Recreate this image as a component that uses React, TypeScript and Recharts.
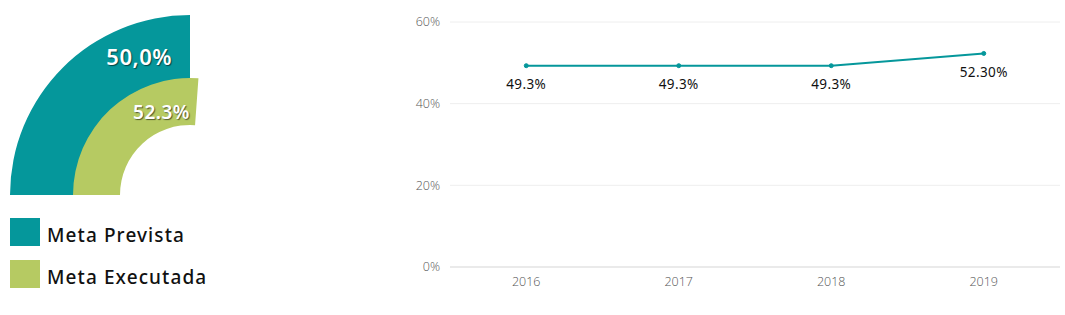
import React from "react";
import { PieChart, Pie, Cell, LineChart, Line, XAxis, YAxis, CartesianGrid, LabelList } from "recharts";

const seriesNames = ["Meta Prevista", "Meta Executada"];
const seriesValues = [50, 52.3];
const seriesLabels = ["50,0%", "52.3%"];
const seriesColors = ["#05979b", "#b6ca62"];

const years = ["2016", "2017", "2018", "2019"];
const yearValues = [49.3, 49.3, 49.3, 52.3];
const yearLabels = ["49.3%", "49.3%", "49.3%", "52.30%"];
const yTicks = [0, 20, 40, 60];

const lineData = years.map((y, i) => ({ year: y, value: yearValues[i], label: yearLabels[i] }));

const ringData = (i: number) => [
  { name: seriesNames[i], value: seriesValues[i] },
  { name: "rest", value: 100 - seriesValues[i] },
];

const FONT = "'Noto Sans', sans-serif";

const makeRingLabel = (i: number, dx: number, dy: number, size: number) => (props: any) => {
  if (props.index !== 0) return null;
  return (
    <text
      x={props.cx + dx}
      y={props.cy + dy}
      textAnchor="end"
      fill="#fff"
      fontFamily={FONT}
      fontWeight={600}
      fontSize={size}
      style={{ textShadow: "1px 1px 1px rgba(0,0,0,0.55)", letterSpacing: 0.5 }}
    >
      {seriesLabels[i]}
    </text>
  );
};

export default function App() {
  return (
    <div style={{ position: "absolute", left: 0, top: 0, width: 1065, height: 315, background: "#fff" }}>
      <div style={{ position: "absolute", left: 0, top: 0 }}>
        <PieChart width={220} height={210} margin={{ top: 0, right: 0, bottom: 0, left: 0 }}>
          <Pie
            data={ringData(0)}
            dataKey="value"
            cx={190}
            cy={195}
            startAngle={180}
            endAngle={0}
            innerRadius={116}
            outerRadius={180}
            stroke="none"
            isAnimationActive={false}
            labelLine={false}
            label={makeRingLabel(0, -18, -130, 22)}
          >
            <Cell fill={seriesColors[0]} />
            <Cell fill="transparent" />
          </Pie>
          <Pie
            data={ringData(1)}
            dataKey="value"
            cx={190}
            cy={195}
            startAngle={180}
            endAngle={0}
            innerRadius={70}
            outerRadius={117}
            stroke="none"
            isAnimationActive={false}
            labelLine={false}
            label={makeRingLabel(1, 0, -76, 19)}
          >
            <Cell fill={seriesColors[1]} />
            <Cell fill="transparent" />
          </Pie>
        </PieChart>
      </div>
      {seriesNames.map((n, i) => (
        <div
          key={n}
          style={{ position: "absolute", left: 10, top: 218 + i * 42, display: "flex", alignItems: "center", height: 28 }}
        >
          <div style={{ width: 30, height: 28, background: seriesColors[i] }} />
          <span
            style={{
              marginLeft: 7,
              marginTop: 5,
              fontFamily: FONT,
              fontSize: 19,
              fontWeight: 500,
              color: "#111",
              letterSpacing: 1.1,
            }}
          >
            {n}
          </span>
        </div>
      ))}
      <div style={{ position: "absolute", left: 380, top: 0 }}>
        <LineChart width={685} height={315} data={lineData} margin={{ top: 22, right: 5, bottom: 18, left: 10 }}>
          <CartesianGrid vertical={false} stroke="#eeeeee" />
          <XAxis
            dataKey="year"
            scale="band"
            tickLine={false}
            axisLine={{ stroke: "#dddddd" }}
            tickMargin={4}
            height={30}
            tick={{ fill: "#555", fontSize: 12.5, fontFamily: "'Open Sans', sans-serif", fontWeight: 300 }}
          />
          <YAxis
            domain={[0, 60]}
            ticks={yTicks}
            tickFormatter={(v: number) => `${v}%`}
            axisLine={false}
            tickLine={false}
            tickMargin={4}
            width={60}
            tick={{ fill: "#555", fontSize: 12.5, fontFamily: "'Open Sans', sans-serif", fontWeight: 300 }}
          />
          <Line
            type="linear"
            dataKey="value"
            stroke={seriesColors[0]}
            strokeWidth={2}
            dot={{ r: 2, fill: seriesColors[0], stroke: seriesColors[0], strokeWidth: 1 }}
            isAnimationActive={false}
          >
            <LabelList
              dataKey="label"
              position="bottom"
              offset={14}
              fill="#111"
              fontSize={13.5}
              fontFamily={FONT}
              style={{ letterSpacing: 0.4 }}
            />
          </Line>
        </LineChart>
      </div>
    </div>
  );
}
